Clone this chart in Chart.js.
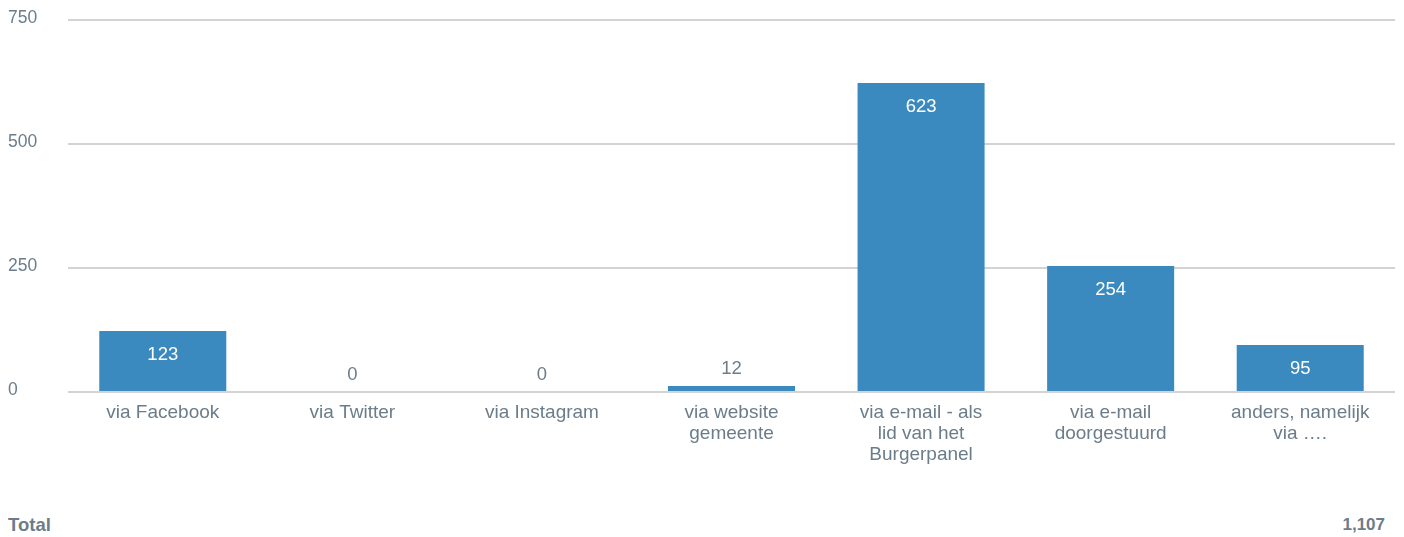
<!DOCTYPE html>
<html>
<head>
<meta charset="utf-8">
<script src="https://cdn.jsdelivr.net/npm/chart.js@4"></script>
<style>
  html, body { margin: 0; padding: 0; background: #fff; }
  body { width: 1404px; height: 537px; position: relative; overflow: hidden;
         font-family: "Liberation Sans", Arial, sans-serif; }
  #wrap { position: absolute; left: 0; top: 0; width: 1404px; height: 480px; }
  .total { position: absolute; top: 514px; font-size: 18.5px; font-weight: bold; color: #6b7d8a; }
  #totalLabel { left: 8px; }
  #totalValue { right: 19px; font-size: 17px; top: 515px; }
</style>
</head>
<body>
<div id="wrap"><canvas id="chart"></canvas></div>
<div class="total" id="totalLabel">Total</div>
<div class="total" id="totalValue">1,107</div>
<script>
// ─── Data ───
const categories = [
  'via Facebook',
  'via Twitter',
  'via Instagram',
  ['via website', 'gemeente'],
  ['via e-mail - als', 'lid van het', 'Burgerpanel'],
  ['via e-mail', 'doorgestuurd'],
  ['anders, namelijk', 'via ….'],
];
const counts = [123, 0, 0, 12, 623, 254, 95];
const yTicks = [0, 250, 500, 750];

const barColor = '#3a89bf';
const textGrey = '#6b7d8a';
const fontFamily = '"Liberation Sans", Arial, sans-serif';

// value labels: inside the bar when it is tall enough, otherwise above it
const valueLabels = {
  id: 'valueLabels',
  afterDatasetsDraw(chart) {
    const { ctx } = chart;
    const meta = chart.getDatasetMeta(0);
    ctx.save();
    ctx.font = '18.5px ' + fontFamily;
    ctx.textAlign = 'center';
    ctx.textBaseline = 'middle';
    meta.data.forEach((bar, i) => {
      const h = bar.base - bar.y;
      if (h > 35) {
        ctx.fillStyle = '#ffffff';
        ctx.fillText(counts[i], bar.x, bar.y + 24);
      } else {
        ctx.fillStyle = textGrey;
        ctx.fillText(counts[i], bar.x, bar.y - 17);
      }
    });
    ctx.restore();
  },
};

new Chart(document.getElementById('chart'), {
  type: 'bar',
  data: {
    labels: categories,
    datasets: [{
      data: counts,
      backgroundColor: barColor,
      barPercentage: 0.67,
      categoryPercentage: 1,
    }],
  },
  options: {
    responsive: true,
    maintainAspectRatio: false,
    animation: false,
    layout: { padding: { top: 20, right: 9, left: 8, bottom: 0 } },
    plugins: { legend: { display: false }, tooltip: { enabled: false } },
    scales: {
      x: {
        grid: { display: false },
        border: { display: false },
        ticks: {
          color: textGrey,
          font: { size: 19, family: fontFamily, lineHeight: 1.08 },
          padding: 3,
          maxRotation: 0,
          autoSkip: false,
        },
        afterFit: s => { s.height = 88; },
      },
      y: {
        min: 0,
        max: 750,
        afterBuildTicks: s => { s.ticks = yTicks.map(v => ({ value: v })); },
        grid: { color: '#d3d3d3', lineWidth: 2, drawTicks: false },
        border: { display: false },
        ticks: {
          color: textGrey,
          font: { size: 17.5, family: fontFamily },
          crossAlign: 'far',
          padding: 8,
          labelOffset: -2,
        },
        afterFit: s => { s.width = 60; },
      },
    },
  },
  plugins: [valueLabels],
});
</script>
</body>
</html>
